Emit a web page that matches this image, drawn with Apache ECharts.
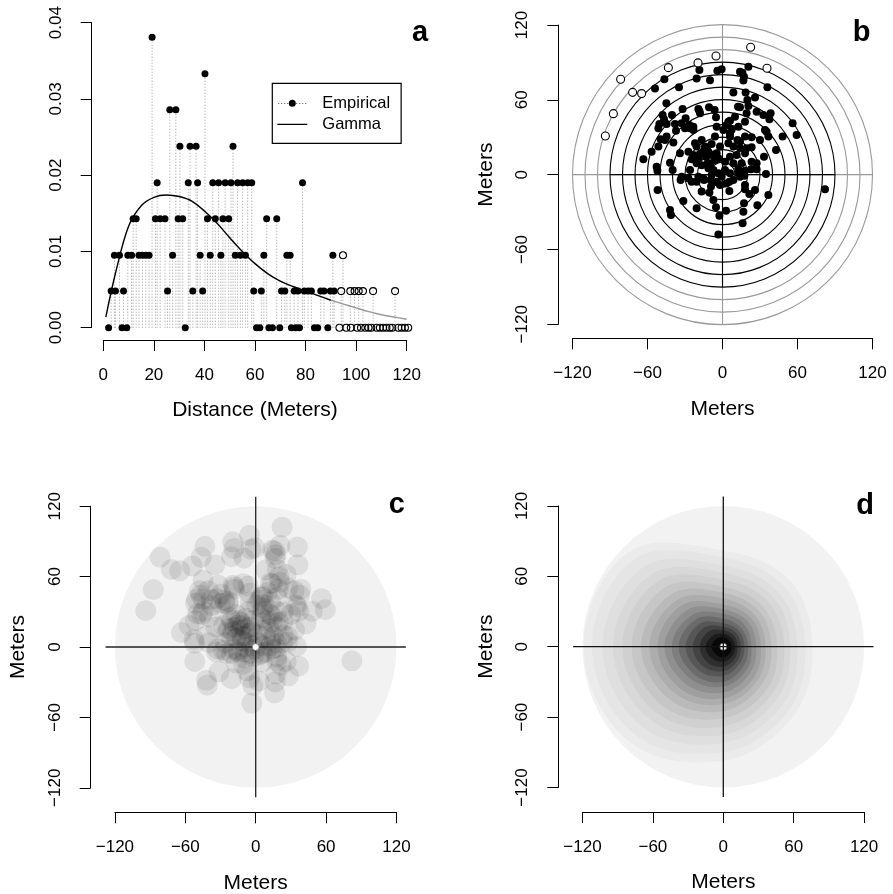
<!DOCTYPE html>
<html><head><meta charset="utf-8">
<script src="https://cdn.jsdelivr.net/npm/echarts@6/dist/echarts.min.js"></script>
<style>html,body{margin:0;padding:0;background:#fff}#c{width:893px;height:894px}</style>
</head><body><div id="c"></div>
<script>
// ================= DATA =================
// axis tick values
const distanceTicks = [0, 20, 40, 60, 80, 100, 120];
const densityTicks = [0, 0.01, 0.02, 0.03, 0.04];
const meterTicks = [-120, -60, 0, 60, 120];

// panel a: empirical density of detection distances ([distance m, density])
const empiricalInside = [
  [2.1,0],[7.4,0],[9.3,0],[32.4,0],[60.6,0],[61.9,0],[65.5,0],[66.9,0],[69.8,0],[74.4,0],[76.2,0],[77.6,0],[83.5,0],[84.8,0],[88.8,0],
  [3.1,0.0048],[4.8,0.0048],[8.0,0.0048],[25.4,0.0048],[35.4,0.0048],[39.3,0.0048],[59.5,0.0048],[62.5,0.0048],[70.5,0.0048],[71.8,0.0048],
  [75.5,0.0048],[77.0,0.0048],[79.5,0.0048],[81.0,0.0048],[82.3,0.0048],[86.0,0.0048],[87.3,0.0048],[89.8,0.0048],[91.3,0.0048],
  [4.4,0.0095],[6.4,0.0095],[9.7,0.0095],[11.2,0.0095],[14.1,0.0095],[15.5,0.0095],[16.8,0.0095],[18.1,0.0095],[27.4,0.0095],[38.3,0.0095],
  [42.3,0.0095],[46.5,0.0095],[52.2,0.0095],[54.2,0.0095],[56.2,0.0095],[63.5,0.0095],[72.6,0.0095],[73.9,0.0095],[90.8,0.0095],
  [11.8,0.0143],[13.0,0.0143],[20.6,0.0143],[22.5,0.0143],[24.4,0.0143],[29.6,0.0143],[31.4,0.0143],[41.2,0.0143],[44.3,0.0143],[47.3,0.0143],
  [49.6,0.0143],[64.6,0.0143],[68.6,0.0143],
  [21.3,0.0190],[33.6,0.0190],[37.3,0.0190],[43.3,0.0190],[45.6,0.0190],[48.2,0.0190],[50.5,0.0190],[53.1,0.0190],[55.1,0.0190],[57.1,0.0190],
  [58.7,0.0190],[78.8,0.0190],
  [30.3,0.0238],[34.3,0.0238],[36.7,0.0238],[51.3,0.0238],
  [26.3,0.0286],[28.7,0.0286],
  [40.2,0.0333],
  [19.3,0.0381]
];
const empiricalOutside = [
  [93.4,0],[96.1,0],[97.9,0],[100.4,0],[101.9,0],[103.6,0],[104.9,0],[106.0,0],[108.1,0],[109.4,0],[110.7,0],[112.0,0],[113.3,0],[114.3,0],
  [116.7,0],[118.0,0],[119.3,0],[120.6,0],
  [94.1,0.0048],[97.7,0.0048],[99.4,0.0048],[101.0,0.0048],[102.7,0.0048],[106.7,0.0048],[115.4,0.0048],
  [94.8,0.0095]
];
// fitted gamma density
const gammaDistance = [1,5,10,15,20,25,30,35,40,45,50,55,60,65,70,75,80,85,90,95,100,105,110,115,120];
const gammaDensity = [0.0014,0.0074,0.0133,0.0160,0.0171,0.0174,0.0172,0.0166,0.0153,0.0137,0.0118,0.0100,0.0084,0.0071,0.0061,0.0054,0.0048,0.0042,0.0036,0.0031,0.0026,0.0021,0.0017,0.0014,0.0011];
const detectionLimit = 90; // metres

// panels b, c: detection locations relative to receiver ([east m, north m])
const detections = [
  [-93.7,31.0],[-87.3,48.9],[-81.5,76.5],[-71.9,66.0],[-64.7,65.0],[-43.3,85.8],[-19.6,89.6],[-5.2,95.2],[22.5,102.1],[35.6,85.3],
  [-18.5,84.0],[-4.1,83.4],[-0.7,84.5],[14.0,82.6],[20.7,86.6],[15.9,81.8],[-20.7,77.0],[-10.0,75.7],[16.7,75.4],[-46.5,76.5],
  [-34.8,70.1],[-54.0,69.0],[35.9,70.1],[8.7,65.8],[18.5,65.8],[26.0,61.8],[19.9,59.9],[20.7,55.1],[12.4,54.5],[14.0,54.0],
  [-44.9,57.2],[-31.9,52.7],[-19.3,52.7],[-18.5,51.1],[-10.8,54.0],[-6.3,51.9],[-5.2,46.0],[-47.9,47.9],[-40.4,47.9],[-46.8,44.4],
  [-50.5,40.6],[-44.7,40.6],[-38.0,40.6],[-29.5,45.2],[-32.7,41.2],[-26.5,39.8],[-23.3,38.5],[-30.0,37.2],[-37.2,35.3],[-44.7,30.5],
  [-39.3,25.7],[-49.5,28.3],[-51.3,22.5],[-56.7,18.4],[-63.3,12.3],[-52.7,6.4],[-52.1,3.2],[-39.9,3.7],[-42.0,9.6],[-32.7,-1.6],
  [-33.5,-4.3],[-26.0,3.7],[-34.0,17.1],[-27.3,18.4],[-24.7,12.3],[-20.7,9.1],[-18.0,16.8],[-22.0,25.1],[-16.7,27.8],[-14.0,22.5],
  [-11.3,18.4],[-8.7,24.6],[-13.2,14.4],[-16.7,7.5],[-9.5,9.1],[-6.0,11.8],[-4.7,17.1],[-2.0,22.5],[-6.0,30.5],[-4.7,38.5],
  [3.3,39.8],[7.3,36.1],[12.7,38.5],[6.0,43.3],[10.0,46.5],[18.0,42.5],[19.3,49.2],[27.3,50.5],[32.7,47.9],[38.5,49.2],
  [37.5,44.4],[34.0,35.8],[35.3,34.5],[36.7,30.5],[30.0,27.8],[23.3,29.9],[18.0,30.5],[12.0,27.8],[6.0,30.5],[4.7,25.1],
  [8.7,22.5],[14.0,21.1],[19.3,21.1],[23.3,21.9],[18.0,17.1],[11.3,15.8],[6.0,14.4],[8.7,9.1],[15.3,9.1],[23.3,10.4],
  [33.2,14.4],[27.3,4.3],[34.8,0.5],[18.0,3.2],[17.5,-0.8],[12.7,1.1],[6.0,1.1],[2.0,3.7],[-0.7,-1.6],[-3.3,1.1],
  [-7.3,3.7],[-11.3,5.1],[-14.8,-4.3],[-20.7,-5.6],[-24.7,-5.6],[-9.5,-4.3],[-2.0,-8.3],[5.5,-5.6],[8.7,-4.3],[-10.5,-14.4],
  [-7.3,-20.3],[-31.3,-21.1],[-20.7,-27.0],[-5.2,-26.2],[-2.5,-32.9],[2.8,-28.9],[5.5,-13.1],[18.0,-11.8],[21.5,-15.5],[17.2,-23.0],
  [27.9,-24.6],[16.1,-39.0],[-3.3,-47.9],[-51.9,-12.3],[-42.0,-28.3],[-41.2,-32.4],[82.0,-11.8],[56.1,41.2],[59.3,31.8],[48.1,30.5],
  [42.8,19.8],[27.3,9.1],[22.9,4.3],
  [-18.0,49.2],[-26.0,37.2],[-23.3,35.8],[-51.3,37.2],[-46.0,27.8],[-23.3,15.8],[-20.7,22.5],[-12.7,21.1],[-15.3,18.5],[-19.3,13.1],
  [-11.9,9.1],[-8.7,15.8],[-3.3,13.1],[-27.3,-2.9],[-19.3,-1.6],[-15.3,-2.9],[-8.7,-0.3],[-4.7,-5.6],[-9.2,-9.6],[-16.7,-13.6],
  [17.2,78.6],[4.7,42.5],[0.7,35.9],[6.0,33.2],[14.0,26.5],[2.0,10.4],[12.7,5.1],[18.0,-8.3],[14.0,-1.6],[3.3,-6.9],
  [26.0,-12.3],[16.7,-29.7],[36.7,-16.3]
];
const receiver = [[0, 0]];
const innerRings = [10, 20, 30, 40, 50, 60, 70, 80, 90];
const outerRings = [100, 110, 120];
const studyRadius = 120;
const crossHalfLength = 128;

// panel d: modelled detection surface, contour bands (outer -> inner)
// radii (m) toward E, NE, N, NW, W, SW, S, SE
const surfaceGrey = ['#ebebeb','#e5e5e5','#dfdfdf','#d8d8d8','#d0d0d0','#c6c6c6','#bababa','#adadad','#9f9f9f','#8f8f8f','#7e7e7e','#6b6b6b','#575757','#434343','#2f2f2f','#1b1b1b','#080808'];
const surfaceRadii = [
  [76,80,82,114,119,114,97,84],
  [70,73,76,106,112,106,90,78],
  [63,66,69,96,103,97,82,71],
  [57,60,63,87,94,88,75,64],
  [52,54,57,79,86,80,68,58],
  [46,48,51,71,78,72,61,52],
  [41,43,46,63,70,64,55,46],
  [36,38,41,56,63,57,49,41],
  [32,34,36,50,56,51,44,37],
  [28,30,32,44,50,45,39,32],
  [24,26,28,38,44,39,34,28],
  [21,22,24,33,38,34,30,24],
  [18,19,20,28,32,29,25,20],
  [15,16,17,23,26,24,21,17],
  [12,13,14,18,20,19,17,14],
  [10,10,11,13,15,14,13,11],
  [7,7,8,9,10,9,9,8]
];

// ================= CHART =================
const FONT = '"Liberation Sans", Arial, Helvetica, sans-serif';
const minusFmt = v => (v < 0 ? '\u2212' + Math.abs(v) : String(v));
const dist = p => Math.sqrt(p[0] * p[0] + p[1] * p[1]);

function axis(kind, grid, ticks, offset, extra) {
  extra = extra || {};
  const a = {
    gridIndex: grid, type: 'value',
    min: ticks[0], max: ticks[ticks.length - 1], interval: ticks[1] - ticks[0],
    position: kind === 'x' ? 'bottom' : 'left', offset: offset,
    axisLine: { show: true, onZero: false, lineStyle: { color: '#000', width: 1 } },
    axisTick: { show: true, length: 11, lineStyle: { color: '#000', width: 1 } },
    axisLabel: {
      show: true, color: '#000', fontSize: 17, fontFamily: FONT,
      margin: kind === 'x' ? 26.5 : 27, rotate: kind === 'x' ? 0 : 90,
      formatter: extra.fmt || minusFmt, showMinLabel: true, showMaxLabel: true
    },
    splitLine: { show: false }, axisPointer: { show: false }
  };
  if (extra.name) {
    a.name = extra.name; a.nameLocation = 'middle';
    a.nameGap = kind === 'x' ? 60 : 62;
    a.nameTextStyle = { color: '#000', fontSize: 21, fontFamily: FONT };
  }
  return a;
}

function ringSeries(grid, radii, color) {
  return {
    type: 'custom', coordinateSystem: 'cartesian2d', xAxisIndex: grid, yAxisIndex: grid,
    silent: true, z: 1, data: radii.map(r => [r, 0]),
    renderItem: (p, api) => {
      const c = api.coord([0, 0]); const s = api.size([api.value(0), api.value(0)]);
      return { type: 'circle', shape: { cx: c[0], cy: c[1], r: s[0] }, style: { fill: 'none', stroke: color, lineWidth: 1.1 } };
    }
  };
}
function discSeries(grid, radius, fill) {
  return {
    type: 'custom', coordinateSystem: 'cartesian2d', xAxisIndex: grid, yAxisIndex: grid,
    silent: true, z: 1, data: [[radius, 0]],
    renderItem: (p, api) => {
      const c = api.coord([0, 0]); const s = api.size([api.value(0), api.value(0)]);
      return { type: 'circle', shape: { cx: c[0], cy: c[1], r: s[0] }, style: { fill: fill } };
    }
  };
}
function crossSeries(grid, half, color, width, z) {
  return {
    type: 'custom', coordinateSystem: 'cartesian2d', xAxisIndex: grid, yAxisIndex: grid,
    silent: true, z: z, data: [[-half, 0, half, 0], [0, -half, 0, half]],
    renderItem: (p, api) => {
      const a = api.coord([api.value(0), api.value(1)]); const b = api.coord([api.value(2), api.value(3)]);
      return { type: 'line', shape: { x1: a[0], y1: a[1], x2: b[0], y2: b[1] }, style: { stroke: color, lineWidth: width } };
    }
  };
}
function receiverSeries(grid, z) {
  return {
    type: 'scatter', xAxisIndex: grid, yAxisIndex: grid, silent: true, z: z, symbolSize: 7,
    itemStyle: { color: '#fff', borderColor: '#666', borderWidth: 0.8, opacity: 1 }, data: receiver
  };
}

const allEmpirical = empiricalInside.concat(empiricalOutside);
const gammaPairs = gammaDistance.map((d, i) => [d, gammaDensity[i]]);
const anchor = 'M0,0h0.01v0.01h-0.01z M29.99,13.99h0.01v0.01h-0.01z ';
const empIcon = 'path://' + anchor + 'M1,6.6h0.9v0.9h-0.9z M4,6.6h0.9v0.9h-0.9z M7,6.6h0.9v0.9h-0.9z M10,6.6h0.9v0.9h-0.9z ' +
  'M19,6.6h0.9v0.9h-0.9z M22,6.6h0.9v0.9h-0.9z M25,6.6h0.9v0.9h-0.9z M28,6.6h0.9v0.9h-0.9z ' +
  'M11.5,7a3.5,3.5 0 1,0 7,0a3.5,3.5 0 1,0 -7,0z';
const gamIcon = 'path://' + anchor + 'M0,6.4H30V7.6H0Z';

const surfaceAngles = [0, 45, 90, 135, 180, 225, 270, 315].map(a => a * Math.PI / 180);

const option = {
  animation: false,
  backgroundColor: '#fff',
  textStyle: { fontFamily: FONT },
  grid: [
    { left: 103.3, top: 22.7, width: 303.4, height: 305 },
    { left: 572.5, top: 25, width: 300, height: 299.3 },
    { left: 114.9, top: 506.2, width: 281.6, height: 281.6 },
    { left: 582.5, top: 505.9, width: 281.6, height: 281.6 }
  ].map(g => Object.assign({ containLabel: false, outerBoundsMode: 'none' }, g)),
  xAxis: [
    axis('x', 0, distanceTicks, 12.3, { name: 'Distance (Meters)' }),
    axis('x', 1, meterTicks, 14, { name: 'Meters' }),
    axis('x', 2, meterTicks, 24.5, { name: 'Meters' }),
    axis('x', 3, meterTicks, 24.5, { name: 'Meters' })
  ],
  yAxis: [
    axis('y', 0, densityTicks, 11.6, { fmt: v => v.toFixed(2) }),
    axis('y', 1, meterTicks, 14.2, { name: 'Meters' }),
    axis('y', 2, meterTicks, 24.2, { name: 'Meters' }),
    axis('y', 3, meterTicks, 24.2, { name: 'Meters' })
  ],
  legend: {
    left: 272.3, top: 83.3, orient: 'vertical', selectedMode: false,
    padding: [11, 11, 10, 5], itemGap: 3, itemWidth: 30, itemHeight: 14,
    borderColor: '#000', borderWidth: 1.2,
    itemStyle: { borderWidth: 0, opacity: 1 },
    textStyle: { fontSize: 16.5, fontFamily: FONT, color: '#000', lineHeight: 18, padding: [0, 0, 0, 10] },
    data: [{ name: 'Empirical', icon: empIcon }, { name: 'Gamma', icon: gamIcon }]
  },
  graphic: [
    ['a', 420, 33], ['b', 861.7, 33], ['c', 396.7, 504.5], ['d', 865, 506]
  ].map(t => ({
    type: 'text', x: t[1], y: t[2], silent: true,
    style: { text: t[0], font: 'bold 29px ' + FONT, fill: '#000', textAlign: 'center', textVerticalAlign: 'middle', align: 'center', verticalAlign: 'middle' }
  })),
  series: [
    // ----- panel a -----
    {
      type: 'custom', name: 'stems', coordinateSystem: 'cartesian2d', xAxisIndex: 0, yAxisIndex: 0, silent: true, z: 1,
      data: allEmpirical,
      renderItem: (p, api) => {
        const x = api.value(0), y = api.value(1);
        const a = api.coord([x, 0]), b = api.coord([x, y]);
        return { type: 'line', shape: { x1: a[0], y1: a[1], x2: b[0], y2: b[1] }, style: { stroke: '#9a9a9a', lineWidth: 1, lineDash: [1, 2] } };
      }
    },
    {
      type: 'line', name: 'Gamma', xAxisIndex: 0, yAxisIndex: 0, smooth: 0.35, showSymbol: false, symbol: 'none', silent: true, z: 3,
      color: '#000', lineStyle: { color: '#000', width: 1.4 },
      data: gammaPairs.filter(p => p[0] <= detectionLimit)
    },
    {
      type: 'line', name: 'Gamma', xAxisIndex: 0, yAxisIndex: 0, smooth: 0.35, showSymbol: false, symbol: 'none', silent: true, z: 3,
      color: '#999', lineStyle: { color: '#999', width: 1.4 },
      data: gammaPairs.filter(p => p[0] >= detectionLimit)
    },
    {
      type: 'scatter', name: 'Empirical', xAxisIndex: 0, yAxisIndex: 0, silent: true, z: 4, clip: false,
      symbolSize: 7, color: '#000', itemStyle: { color: '#000', opacity: 1 }, data: empiricalInside
    },
    {
      type: 'scatter', name: 'Empirical', xAxisIndex: 0, yAxisIndex: 0, silent: true, z: 4, clip: false,
      symbolSize: 7, itemStyle: { color: 'rgba(255,255,255,0)', borderColor: '#000', borderWidth: 1.1, opacity: 1 }, data: empiricalOutside
    },
    // ----- panel b -----
    crossSeries(1, studyRadius, '#999', 1.1, 1),
    ringSeries(1, outerRings, '#999'),
    ringSeries(1, innerRings, '#000'),
    crossSeries(1, detectionLimit, '#000', 1.1, 2),
    {
      type: 'scatter', xAxisIndex: 1, yAxisIndex: 1, silent: true, z: 4, clip: false, symbolSize: 8,
      itemStyle: { color: '#000', opacity: 1 }, data: detections.filter(p => dist(p) <= detectionLimit)
    },
    {
      type: 'scatter', xAxisIndex: 1, yAxisIndex: 1, silent: true, z: 4, clip: false, symbolSize: 8,
      itemStyle: { color: '#fff', borderColor: '#000', borderWidth: 1.1, opacity: 1 }, data: detections.filter(p => dist(p) > detectionLimit)
    },
    // ----- panel c -----
    discSeries(2, studyRadius, '#f2f2f2'),
    {
      type: 'scatter', xAxisIndex: 2, yAxisIndex: 2, silent: true, z: 2, clip: false, symbolSize: 21,
      itemStyle: { color: '#000', opacity: 0.085 }, data: detections
    },
    crossSeries(2, crossHalfLength, '#222', 1.3, 3),
    receiverSeries(2, 4),
    // ----- panel d -----
    discSeries(3, studyRadius, '#f2f2f2'),
    {
      type: 'custom', coordinateSystem: 'cartesian2d', xAxisIndex: 3, yAxisIndex: 3, silent: true, z: 2,
      data: surfaceGrey.map((g, i) => [i, 0]),
      renderItem: (p, api) => {
        const i = api.value(0);
        const pts = surfaceRadii[i].map((r, k) => api.coord([r * Math.cos(surfaceAngles[k]), r * Math.sin(surfaceAngles[k])]));
        return { type: 'polygon', shape: { points: pts, smooth: 0.375 }, style: { fill: surfaceGrey[i] } };
      }
    },
    receiverSeries(3, 3),
    crossSeries(3, crossHalfLength, '#111', 1.3, 4)
  ]
};

const chart = echarts.init(document.getElementById('c'), null, { renderer: 'canvas', width: 893, height: 894 });
chart.setOption(option);
</script>
</body></html>
